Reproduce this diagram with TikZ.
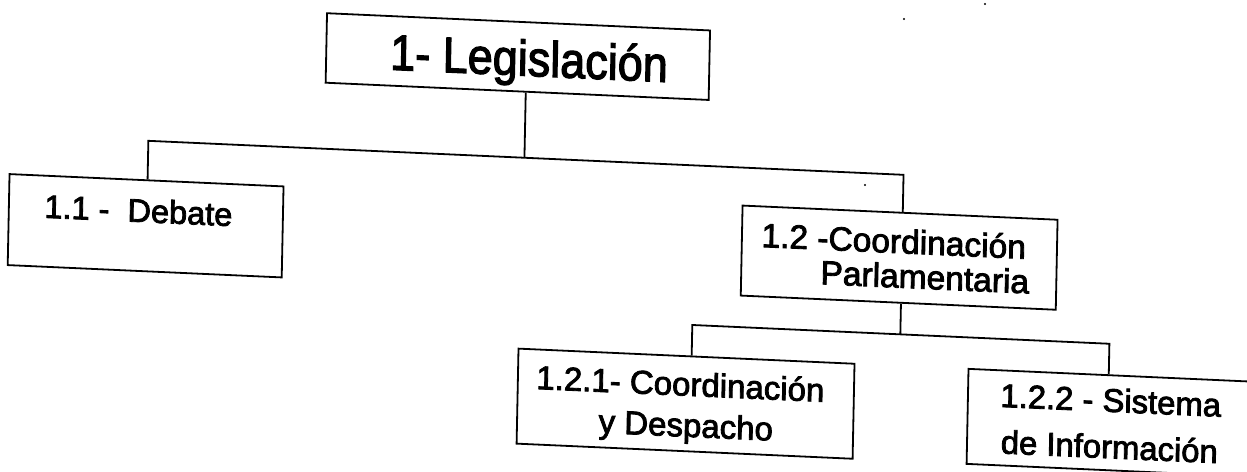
\documentclass[tikz,border=0pt]{standalone}
\usepackage{fontspec}
\setmainfont[FakeBold=2.5]{Liberation Sans}
\begin{document}
\begin{tikzpicture}[x=1pt,y=-1pt,
  box/.style={draw=black, line width=1.8pt, rectangle, inner sep=0pt},
  wire/.style={draw=black, line width=1.8pt},
  lbl/.style={inner sep=0pt, outer sep=0pt, anchor=base west, text=black, align=left},
  fbig/.style={font=\fontsize{50}{56}\selectfont},
  fa/.style={font=\fontsize{32.5}{38}\selectfont},
  fb/.style={font=\fontsize{33}{41}\selectfont},
  fc/.style={font=\fontsize{33.5}{34.5}\selectfont},
  fd/.style={font=\fontsize{32.8}{46.5}\selectfont}]
\useasboundingbox (0,0) rectangle (1247,471);
\fill[white] (0,0) rectangle (1247,471);
\clip (0,0) rectangle (1247,471);
\begin{scope}[cm={1,-0.045,0.02,1,(0,0)}, every node/.append style={transform shape}]
  % boxes
  \node[box, minimum width=383pt, minimum height=69.5pt] (top)  at (518.5,33.25) {};
  \node[box, minimum width=274pt, minimum height=91pt]   (deb)  at (150,219) {};
  \node[box, minimum width=315pt, minimum height=90pt]   (coord) at (903.5,217) {};
  \node[box, minimum width=336pt, minimum height=95pt]   (c121) at (693,372.5) {};
  \node[box, minimum width=325pt, minimum height=95pt]   (c122) at (1137.5,372.5) {};
  % labels (base anchor = baseline of the last line)
  \node[lbl, fbig, xscale=0.9] (tleg) at (391,52) {1- Legislación};
  \node[lbl, fa] (tdeb) at (48.6,215.5) {1.1 - \ Debate};
  \node[lbl, fc] (t12) at (765.6,247) {1.2 -Coordinación\\\hspace*{59.7pt}Parlamentaria};
  \node[lbl, fb] (t121) at (543.5,405.5) {1.2.1- Coordinación\\\hspace*{63.1pt}y Despacho};
  \node[lbl, fd] (t122) at (1007.5,408) {1.2.2 - Sistema\\\hspace*{1.3pt}de Información};
  % bus points
  \coordinate (bus0) at (527,134);
  \coordinate (busL) at (151,134);
  \coordinate (busR) at (906,134);
  \coordinate (lb0)  at (906,293.5);
  \coordinate (lbL)  at (698,293.5);
  \coordinate (lbR)  at (1115,293.5);
  % connectors
  \draw[wire] (top.south -| bus0) -- (bus0);
  \draw[wire] (deb.north -| busL) -- (busL) -- (busR) -- (coord.north -| busR);
  \draw[wire] (coord.south -| lb0) -- (lb0);
  \draw[wire] (c121.north -| lbL) -- (lbL) -- (lbR) -- (c122.north -| lbR);
\end{scope}
% scan specks
\fill[black] (985,4) circle[radius=1.2pt];
\fill[black] (904,19) circle[radius=1.2pt];
\fill[black] (865,185) circle[radius=1.2pt];
\end{tikzpicture}
\end{document}
